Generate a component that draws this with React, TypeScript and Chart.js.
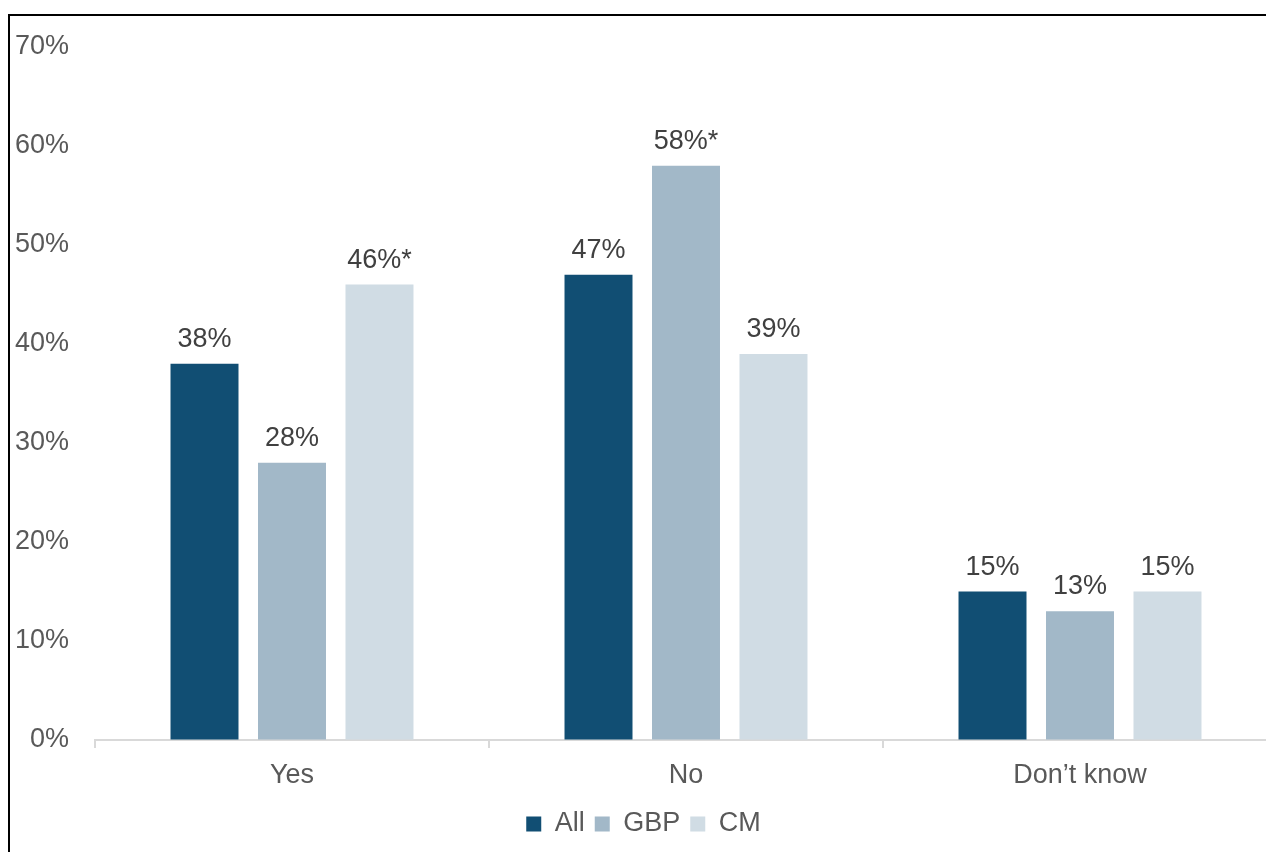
import React, { useEffect, useRef } from "react";
import { Chart, registerables } from "chart.js";

Chart.register(...registerables);

const categories = ["Yes", "No", "Don\u2019t know"];
const seriesNames = ["All", "GBP", "CM"];
const allValues = [38, 47, 15];
const gbpValues = [28, 58, 13];
const cmValues = [46, 39, 15];
const allLabels = ["38%", "47%", "15%"];
const gbpLabels = ["28%", "58%*", "13%"];
const cmLabels = ["46%*", "39%", "15%"];
const seriesColors = ["#114e73", "#a2b8c8", "#d0dce4"];
const yMin = 0;
const yMax = 70;
const yStep = 10;

const FONT = "'Liberation Sans', Arial, sans-serif";

const dataLabelPlugin = {
  id: "dataLabels",
  afterDatasetsDraw(chart: any) {
    const ctx = chart.ctx;
    const labelSets = [allLabels, gbpLabels, cmLabels];
    ctx.save();
    ctx.font = `27px ${FONT}`;
    ctx.fillStyle = "#404040";
    ctx.textAlign = "center";
    ctx.textBaseline = "alphabetic";
    chart.data.datasets.forEach((_ds: any, di: number) => {
      const meta = chart.getDatasetMeta(di);
      meta.data.forEach((bar: any, i: number) => {
        ctx.fillText(labelSets[di][i], bar.x, bar.y - 17);
      });
    });
    ctx.restore();
  },
};

export default function App() {
  const canvasRef = useRef<HTMLCanvasElement | null>(null);

  useEffect(() => {
    if (!canvasRef.current) return;
    const chart = new Chart(canvasRef.current, {
      type: "bar",
      data: {
        labels: categories,
        datasets: [allValues, gbpValues, cmValues].map((vals, i) => ({
          label: seriesNames[i],
          data: vals,
          backgroundColor: seriesColors[i],
          borderWidth: 0,
          categoryPercentage: 0.6662,
          barPercentage: 0.777,
        })),
      },
      options: {
        animation: false,
        responsive: false,
        devicePixelRatio: 1,
        layout: { padding: { top: 31, left: 0, right: 8, bottom: 4.5 } },
        plugins: {
          tooltip: { enabled: false },
          legend: {
            display: true,
            position: "bottom",
            labels: {
              boxWidth: 15,
              boxHeight: 15,
              padding: 10,
              color: "#595959",
              font: { family: FONT, size: 27 },
            },
          },
        },
        scales: {
          x: {
            grid: {
              display: true,
              drawOnChartArea: false,
              drawTicks: true,
              tickLength: 8,
              color: "#d9d9d9",
              lineWidth: 2,
              offset: true,
            },
            border: { display: true, color: "#d9d9d9", width: 2 },
            ticks: {
              padding: 11,
              color: "#595959",
              font: { family: FONT, size: 27 },
              maxRotation: 0,
            },
            afterFit: (scale: any) => {
              scale.height = 60.5;
            },
          },
          y: {
            min: yMin,
            max: yMax,
            grid: {
              display: true,
              drawOnChartArea: false,
              drawTicks: true,
              tickLength: 26,
              color: "rgba(0,0,0,0)",
            },
            border: { display: false },
            ticks: {
              stepSize: yStep,
              padding: 0,
              color: "#595959",
              font: { family: FONT, size: 27 },
              callback: (v: any) => `${v}%`,
            },
            afterFit: (scale: any) => {
              scale.width = 85;
            },
          },
        },
      },
      plugins: [dataLabelPlugin],
    } as any);
    return () => chart.destroy();
  }, []);

  return (
    <div
      style={{
        position: "fixed",
        left: 0,
        top: 0,
        width: 1266,
        height: 852,
        overflow: "hidden",
        background: "#ffffff",
      }}
    >
      <div
        style={{
          position: "absolute",
          left: 8,
          top: 14,
          width: 1400,
          height: 900,
          borderTop: "2px solid #000",
          borderLeft: "2px solid #000",
        }}
      >
        <canvas
          ref={canvasRef}
          width={1275}
          height={836}
          style={{ position: "absolute", left: 0, top: 0, width: 1275, height: 836, display: "block" }}
        />
      </div>
    </div>
  );
}
